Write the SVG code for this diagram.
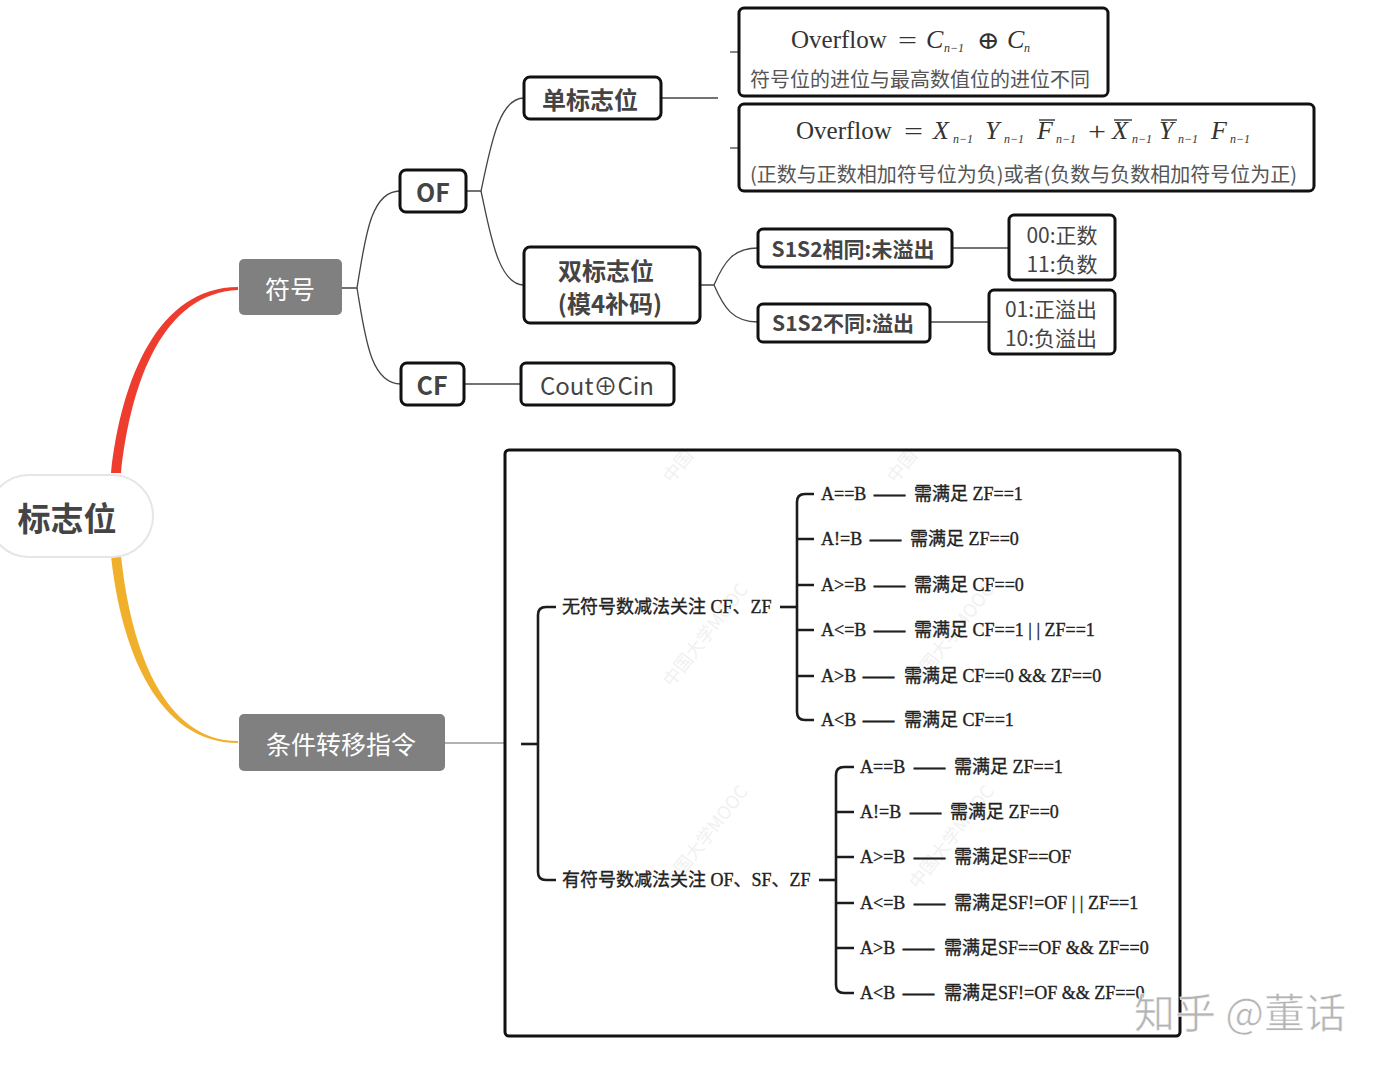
<svg xmlns="http://www.w3.org/2000/svg" width="1388" height="1069" viewBox="0 0 1388 1069">
<style>
.bx{fill:#fff;stroke:#111;stroke-width:3}
.fr{fill:none;stroke:#111;stroke-width:3}
.gb{fill:#808080}
.t{font-family:"Noto Sans CJK SC","Noto Sans",sans-serif;fill:#444;text-anchor:middle;dominant-baseline:central}
.w{fill:#fff}
.b{font-weight:bold}
.cn{fill:none;stroke:#444;stroke-width:1.3}
.br{fill:none;stroke:#1c1c1c;stroke-width:2.6}
.m{font-family:"Liberation Serif","DejaVu Serif",serif;fill:#333;font-size:25px}
.mi{font-style:italic;font-size:26px}
.sb{font-family:"Liberation Serif",serif;font-style:italic;font-size:12px;fill:#333}
.ol{stroke:#333;stroke-width:1.4}
.zh{font-family:"Noto Sans CJK SC",sans-serif;font-size:20px;fill:#555}
.it{font-family:"Liberation Serif","Noto Sans CJK SC",serif;font-size:18px;fill:#222;stroke:#222;stroke-width:0.35}
.ds{font-family:"Noto Sans CJK SC",sans-serif;font-size:17px;fill:#222;stroke:#222;stroke-width:0.8}
.wm{font-family:"Noto Sans CJK SC",sans-serif;font-size:18px;fill:#f1f1f1}
</style>

<g id="jump-frame">
<rect x="505" y="450" width="675" height="586" rx="4" fill="#fff"/>
</g>

<g id="watermarks">
<text class="wm" transform="translate(672,688) rotate(-52)">中国大学MOOC</text>
<text class="wm" transform="translate(918,688) rotate(-52)">中国大学MOOC</text>
<text class="wm" transform="translate(672,890) rotate(-52)">中国大学MOOC</text>
<text class="wm" transform="translate(918,890) rotate(-52)">中国大学MOOC</text>
<text class="wm" transform="translate(672,484) rotate(-52)">中国</text>
<text class="wm" transform="translate(896,484) rotate(-52)">中国</text>
</g>

<g id="connectors">
<path d="M111,473 C121,380 158,287 238,287 L238,290 C164,293 131,380 121,473 Z" fill="#ee3c2e"/>
<path d="M111,556 C121,650 158,743 238,743 L238,741 C164,741 131,650 121,556 Z" fill="#f0b02c"/>
<path class="cn" d="M342,288 H357 C365,240 370,191 400,191"/>
<path class="cn" d="M357,288 C365,336 370,384 401,384"/>
<path class="cn" d="M466,191 H481 C490,150 498,98 524,98"/>
<path class="cn" d="M481,191 C490,232 498,285 524,285"/>
<path class="cn" d="M661,98 H718"/>
<path class="cn" d="M730,52 H739"/>
<path class="cn" d="M730,148 H739"/>
<path class="cn" d="M700,285 H714 C724,262 733,248 758,248"/>
<path class="cn" d="M714,285 C724,308 733,322 758,322"/>
<path class="cn" d="M952,248 H1009"/>
<path class="cn" d="M930,322 H989"/>
<path class="cn" d="M464,384 H521"/>
<path d="M445,743 H505" fill="none" stroke="#666" stroke-width="1.2"/>
<path class="br" d="M521,744 H538"/>
<path class="br" d="M556,607 H546 Q538,607 538,615 V872 Q538,880 546,880 H556"/>
<path class="br" d="M780,607 H797"/>
<path class="br" d="M814,494 H805 Q797,494 797,502 V712 Q797,720 805,720 H814"/>
<path class="br" d="M797,539 H814 M797,585 H814 M797,630 H814 M797,676 H814"/>
<path class="br" d="M819,880 H836"/>
<path class="br" d="M854,767 H844 Q836,767 836,775 V985 Q836,993 844,993 H854"/>
<path class="br" d="M836,812 H854 M836,857 H854 M836,903 H854 M836,948 H854"/>
</g>

<g id="root">
<rect x="-12" y="475" width="165" height="82" rx="41" fill="#fff" stroke="#e6e6e6" stroke-width="2"/>
<text class="t b" x="67" y="517" font-size="33">标志位</text>
</g>
<g id="fuhao">
<rect class="gb" x="239" y="259" width="103" height="56" rx="5"/>
<text class="t w" x="290" y="288" font-size="25">符号</text>
</g>
<g id="tiaojian">
<rect class="gb" x="239" y="714" width="206" height="57" rx="5"/>
<text class="t w" x="341" y="743" font-size="25">条件转移指令</text>
</g>
<g id="OF">
<rect class="bx" x="400" y="170" width="66" height="42" rx="6"/>
<text class="t b" x="433" y="191" font-size="25">OF</text>
</g>
<g id="CF">
<rect class="bx" x="401" y="363" width="63" height="42" rx="6"/>
<text class="t b" x="432" y="384" font-size="25">CF</text>
</g>
<g id="danbiaozhi">
<rect class="bx" x="524" y="77" width="137" height="42" rx="6"/>
<text class="t b" x="590" y="98" font-size="24">单标志位</text>
</g>
<g id="shuangbiaozhi">
<rect class="bx" x="524" y="247" width="176" height="76" rx="6"/>
<text class="t b" x="606" y="269" font-size="24">双标志位</text>
<text class="t b" x="610" y="302" font-size="24">(模4补码)</text>
</g>
<g id="formula1">
<rect class="bx" x="739" y="8" width="369" height="88" rx="5"/>
<text class="m" x="791" y="48">Overflow</text>
<text class="m" x="898" y="49" textLength="19" lengthAdjust="spacingAndGlyphs">=</text>
<text class="m mi" x="926" y="48">C</text>
<text class="sb" x="944" y="52">n−1</text>
<text x="977" y="49" font-family="DejaVu Serif,serif" font-size="25" fill="#333" textLength="23" lengthAdjust="spacingAndGlyphs">⊕</text>
<text class="m mi" x="1007" y="48">C</text>
<text class="sb" x="1024" y="52">n</text>
<text class="zh" x="750" y="87">符号位的进位与最高数值位的进位不同</text>
</g>
<g id="formula2">
<rect class="bx" x="739" y="104" width="575" height="87" rx="5"/>
<text class="m" x="796" y="139">Overflow</text>
<text class="m" x="904" y="140" textLength="19" lengthAdjust="spacingAndGlyphs">=</text>
<text class="m mi" x="933" y="139">X</text>
<text class="sb" x="953" y="143">n−1</text>
<text class="m mi" x="985" y="139">Y</text>
<text class="sb" x="1004" y="143">n−1</text>
<text class="m mi" x="1037" y="139">F</text>
<line class="ol" x1="1039" y1="120" x2="1055" y2="120"/>
<text class="sb" x="1056" y="143">n−1</text>
<text class="m" x="1088" y="140" textLength="18" lengthAdjust="spacingAndGlyphs">+</text>
<text class="m mi" x="1112" y="139">X</text>
<line class="ol" x1="1114" y1="120" x2="1132" y2="120"/>
<text class="sb" x="1132" y="143">n−1</text>
<text class="m mi" x="1159" y="139">Y</text>
<line class="ol" x1="1161" y1="120" x2="1177" y2="120"/>
<text class="sb" x="1178" y="143">n−1</text>
<text class="m mi" x="1211" y="139">F</text>
<text class="sb" x="1230" y="143">n−1</text>
<text class="zh" x="750" y="182">(正数与正数相加符号位为负)或者(负数与负数相加符号位为正)</text>
</g>
<g id="same">
<rect class="bx" x="758" y="229" width="194" height="38" rx="5"/>
<text class="t b" x="853" y="248" font-size="21">S1S2相同:未溢出</text>
</g>
<g id="diff">
<rect class="bx" x="758" y="304" width="172" height="38" rx="5"/>
<text class="t b" x="843" y="322" font-size="21">S1S2不同:溢出</text>
</g>
<g id="same-vals">
<rect class="bx" x="1009" y="215" width="106" height="65" rx="5"/>
<text class="t" x="1062" y="234" font-size="21">00:正数</text>
<text class="t" x="1062" y="263" font-size="21">11:负数</text>
</g>
<g id="diff-vals">
<rect class="bx" x="989" y="290" width="126" height="64" rx="5"/>
<text class="t" x="1051" y="308" font-size="21">01:正溢出</text>
<text class="t" x="1051" y="337" font-size="21">10:负溢出</text>
</g>
<g id="cout">
<rect class="bx" x="521" y="363" width="153" height="42" rx="5"/>
<text class="t" x="597" y="384" font-size="24">Cout⊕Cin</text>
</g>

<g id="jump-table">
<rect class="fr" x="505" y="450" width="675" height="586" rx="4"/>
<text class="it" x="562" y="613">无符号数减法关注 CF、ZF</text>
<text class="it" x="821" y="500">A==B</text><text class="ds" x="873" y="500" textLength="33" lengthAdjust="spacingAndGlyphs">——</text><text class="it" x="914" y="500">需满足 ZF==1</text>
<text class="it" x="821" y="545">A!=B</text><text class="ds" x="869" y="545" textLength="33" lengthAdjust="spacingAndGlyphs">——</text><text class="it" x="910" y="545">需满足 ZF==0</text>
<text class="it" x="821" y="591">A&gt;=B</text><text class="ds" x="873" y="591" textLength="33" lengthAdjust="spacingAndGlyphs">——</text><text class="it" x="914" y="591">需满足 CF==0</text>
<text class="it" x="821" y="636">A&lt;=B</text><text class="ds" x="873" y="636" textLength="33" lengthAdjust="spacingAndGlyphs">——</text><text class="it" x="914" y="636">需满足 CF==1 | | ZF==1</text>
<text class="it" x="821" y="682">A&gt;B</text><text class="ds" x="862" y="682" textLength="33" lengthAdjust="spacingAndGlyphs">——</text><text class="it" x="904" y="682">需满足 CF==0 &amp;&amp; ZF==0</text>
<text class="it" x="821" y="726">A&lt;B</text><text class="ds" x="862" y="726" textLength="33" lengthAdjust="spacingAndGlyphs">——</text><text class="it" x="904" y="726">需满足 CF==1</text>
<text class="it" x="562" y="886">有符号数减法关注 OF、SF、ZF</text>
<text class="it" x="860" y="773">A==B</text><text class="ds" x="913" y="773" textLength="33" lengthAdjust="spacingAndGlyphs">——</text><text class="it" x="954" y="773">需满足 ZF==1</text>
<text class="it" x="860" y="818">A!=B</text><text class="ds" x="909" y="818" textLength="33" lengthAdjust="spacingAndGlyphs">——</text><text class="it" x="950" y="818">需满足 ZF==0</text>
<text class="it" x="860" y="863">A&gt;=B</text><text class="ds" x="913" y="863" textLength="33" lengthAdjust="spacingAndGlyphs">——</text><text class="it" x="954" y="863">需满足SF==OF</text>
<text class="it" x="860" y="909">A&lt;=B</text><text class="ds" x="913" y="909" textLength="33" lengthAdjust="spacingAndGlyphs">——</text><text class="it" x="954" y="909">需满足SF!=OF | | ZF==1</text>
<text class="it" x="860" y="954">A&gt;B</text><text class="ds" x="902" y="954" textLength="33" lengthAdjust="spacingAndGlyphs">——</text><text class="it" x="944" y="954">需满足SF==OF &amp;&amp; ZF==0</text>
<text class="it" x="860" y="999">A&lt;B</text><text class="ds" x="902" y="999" textLength="33" lengthAdjust="spacingAndGlyphs">——</text><text class="it" x="944" y="999">需满足SF!=OF &amp;&amp; ZF==0</text>
</g>

<g id="credit">
<text x="1134" y="1028" font-family="Noto Sans CJK SC,sans-serif" font-size="41" fill="#b4b4b4" stroke="#fff" stroke-width="0.6">知乎 @董话</text>
</g>
</svg>
